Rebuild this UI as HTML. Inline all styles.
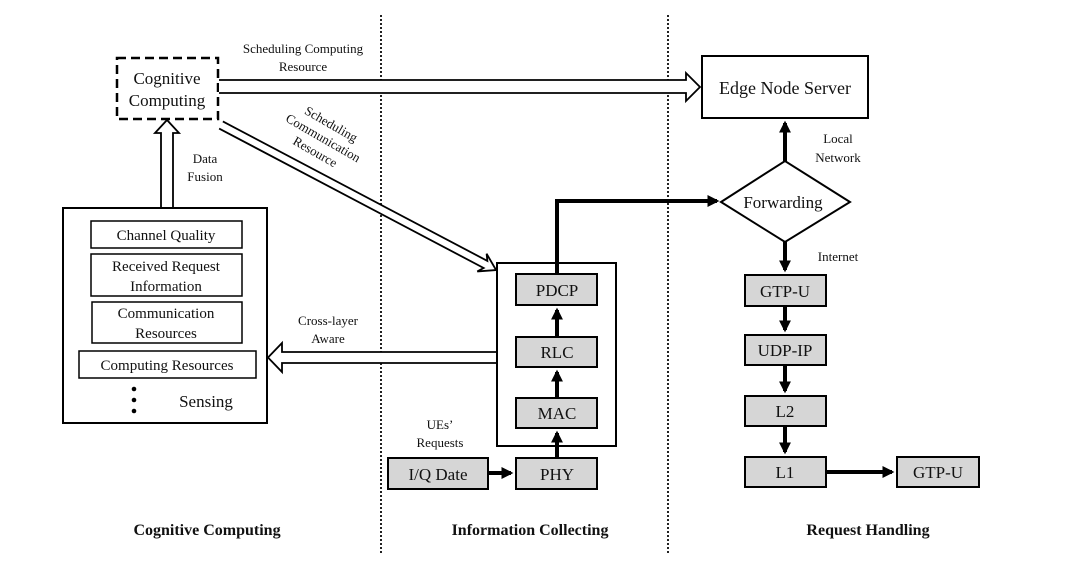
<!DOCTYPE html>
<html><head><meta charset="utf-8"><style>
body{margin:0;background:#fff}
svg{display:block}
text{font-family:"Liberation Serif",serif;fill:#111}
</style></head><body>
<svg width="1080" height="585" viewBox="0 0 1080 585" xmlns="http://www.w3.org/2000/svg">
<defs>
<marker id="ah" markerWidth="3" markerHeight="3" refX="2.4" refY="1.5" orient="auto" markerUnits="strokeWidth"><path d="M0,0 L3,1.5 L0,3 z" fill="#000"/></marker>
</defs>
<line x1="381" y1="15" x2="381" y2="555" stroke="#222" stroke-width="2" stroke-dasharray="2,2"/>
<line x1="668" y1="15" x2="668" y2="555" stroke="#222" stroke-width="2" stroke-dasharray="2,2"/>

<rect x="117" y="58" width="101" height="61" fill="#fff" stroke="#000" stroke-width="2.5" stroke-dasharray="9,5"/>
<text x="167" y="84" font-size="17" text-anchor="middle">Cognitive</text>
<text x="167" y="106" font-size="17" text-anchor="middle">Computing</text>

<path d="M161,208 L161,133 L155,133 L167,120 L179,133 L173,133 L173,208" fill="#fff" stroke="#000" stroke-width="1.8"/>
<text x="205" y="163" font-size="13" text-anchor="middle">Data</text>
<text x="205" y="181" font-size="13" text-anchor="middle">Fusion</text>

<path d="M219,80 L686,80 L686,73 L700,87 L686,101 L686,93 L219,93" fill="#fff" stroke="#000" stroke-width="1.8"/>
<text x="303" y="53" font-size="13" text-anchor="middle">Scheduling Computing</text>
<text x="303" y="71" font-size="13" text-anchor="middle">Resource</text>

<g transform="translate(221,125) rotate(27.8)">
<path d="M0,-4 L299,-4 L295,-10 L311,0 L295,10 L299,4 L0,4" fill="#fff" stroke="#000" stroke-width="1.8"/>
</g>
<g transform="translate(322,140) rotate(30)" font-size="13" text-anchor="middle">
<text x="0" y="-14">Scheduling</text>
<text x="0" y="2">Communication</text>
<text x="0" y="18">Resource</text>
</g>

<rect x="63" y="208" width="204" height="215" fill="#fff" stroke="#000" stroke-width="2"/>
<rect x="91" y="221" width="151" height="27" fill="#fff" stroke="#000" stroke-width="1.5"/>
<text x="166" y="240" font-size="15" text-anchor="middle">Channel Quality</text>
<rect x="91" y="254" width="151" height="42" fill="#fff" stroke="#000" stroke-width="1.5"/>
<text x="166" y="271" font-size="15" text-anchor="middle">Received Request</text>
<text x="166" y="291" font-size="15" text-anchor="middle">Information</text>
<rect x="92" y="302" width="150" height="41" fill="#fff" stroke="#000" stroke-width="1.5"/>
<text x="166" y="318" font-size="15" text-anchor="middle">Communication</text>
<text x="166" y="338" font-size="15" text-anchor="middle">Resources</text>
<rect x="79" y="351" width="177" height="27" fill="#fff" stroke="#000" stroke-width="1.5"/>
<text x="167" y="370" font-size="15" text-anchor="middle">Computing Resources</text>
<circle cx="134" cy="389" r="2.3" fill="#000"/>
<circle cx="134" cy="400" r="2.3" fill="#000"/>
<circle cx="134" cy="411" r="2.3" fill="#000"/>
<text x="206" y="407" font-size="17" text-anchor="middle">Sensing</text>

<path d="M496,352 L282,352 L282,343 L268,357.5 L282,372 L282,363 L496,363" fill="#fff" stroke="#000" stroke-width="1.8"/>
<text x="328" y="325" font-size="13" text-anchor="middle">Cross-layer</text>
<text x="328" y="343" font-size="13" text-anchor="middle">Aware</text>

<rect x="497" y="263" width="119" height="183" fill="#fff" stroke="#000" stroke-width="2"/>
<g fill="#d6d6d6" stroke="#000" stroke-width="2">
<rect x="516" y="274" width="81" height="31"/>
<rect x="516" y="337" width="81" height="30"/>
<rect x="516" y="398" width="81" height="30"/>
<rect x="516" y="458" width="81" height="31"/>
<rect x="388" y="458" width="100" height="31"/>
<rect x="745" y="275" width="81" height="31"/>
<rect x="745" y="335" width="81" height="30"/>
<rect x="745" y="396" width="81" height="30"/>
<rect x="745" y="457" width="81" height="30"/>
<rect x="897" y="457" width="82" height="30"/>
</g>
<g font-size="17" text-anchor="middle">
<text x="557" y="296">PDCP</text>
<text x="557" y="358">RLC</text>
<text x="557" y="419">MAC</text>
<text x="557" y="480">PHY</text>
<text x="438" y="480">I/Q Date</text>
<text x="785" y="297">GTP-U</text>
<text x="785" y="356">UDP-IP</text>
<text x="785" y="417">L2</text>
<text x="785" y="478">L1</text>
<text x="938" y="478">GTP-U</text>
</g>
<text x="440" y="429" font-size="13" text-anchor="middle">UEs’</text>
<text x="440" y="447" font-size="13" text-anchor="middle">Requests</text>

<g stroke="#000" stroke-width="4" fill="none" marker-end="url(#ah)">
<line x1="557" y1="458" x2="557" y2="433"/>
<line x1="557" y1="398" x2="557" y2="372"/>
<line x1="557" y1="337" x2="557" y2="310"/>
<line x1="488" y1="473" x2="511" y2="473"/>
<polyline points="557,274 557,201 717,201"/>
<line x1="785" y1="161" x2="785" y2="123"/>
<line x1="785" y1="242" x2="785" y2="270"/>
<line x1="785" y1="306" x2="785" y2="330"/>
<line x1="785" y1="365" x2="785" y2="391"/>
<line x1="785" y1="426" x2="785" y2="452"/>
<line x1="826" y1="472" x2="892" y2="472"/>
</g>

<rect x="702" y="56" width="166" height="62" fill="#fff" stroke="#000" stroke-width="2"/>
<text x="785" y="94" font-size="18" text-anchor="middle">Edge Node Server</text>
<polygon points="721,202 785,161 850,202 785,242" fill="#fff" stroke="#000" stroke-width="2"/>
<text x="783" y="208" font-size="17" text-anchor="middle">Forwarding</text>
<text x="838" y="143" font-size="13" text-anchor="middle">Local</text>
<text x="838" y="162" font-size="13" text-anchor="middle">Network</text>
<text x="838" y="261" font-size="13" text-anchor="middle">Internet</text>

<g font-size="16" font-weight="bold" text-anchor="middle">
<text x="207" y="535">Cognitive Computing</text>
<text x="530" y="535">Information Collecting</text>
<text x="868" y="535">Request Handling</text>
</g>
</svg>
</body></html>
